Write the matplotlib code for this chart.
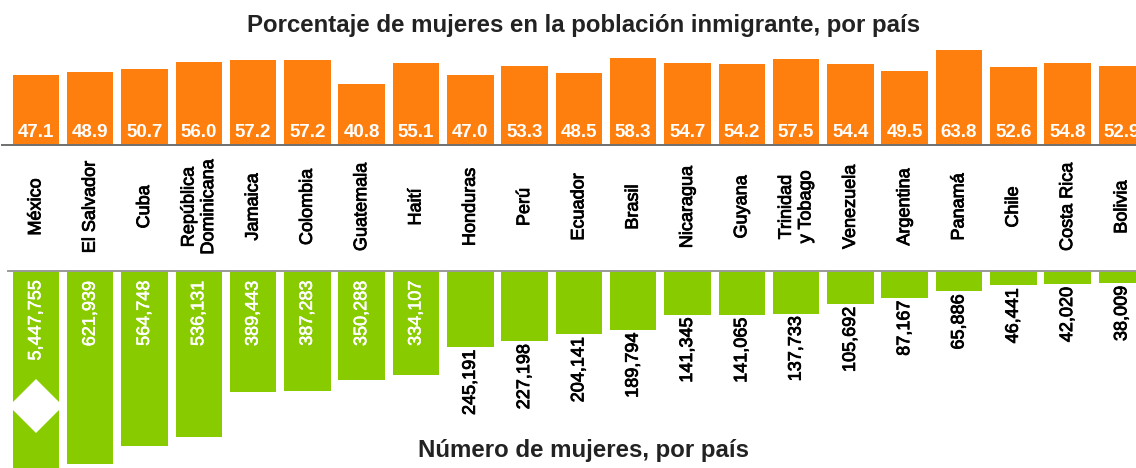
import matplotlib
matplotlib.use("Agg")
from matplotlib import pyplot as plt
from matplotlib import patheffects
from matplotlib.transforms import blended_transform_factory

plt.rcParams["font.family"] = ["Liberation Sans", "DejaVu Sans"]

countries = ["México", "El Salvador", "Cuba", "República\nDominicana", "Jamaica",
             "Colombia", "Guatemala", "Haití", "Honduras", "Perú", "Ecuador",
             "Brasil", "Nicaragua", "Guyana", "Trinidad\ny Tobago", "Venezuela",
             "Argentina", "Panamá", "Chile", "Costa Rica", "Bolivia"]
pct_women = [47.1, 48.9, 50.7, 56.0, 57.2, 57.2, 40.8, 55.1, 47.0, 53.3, 48.5,
             58.3, 54.7, 54.2, 57.5, 54.4, 49.5, 63.8, 52.6, 54.8, 52.9]
num_women = [5447755, 621939, 564748, 536131, 389443, 387283, 350288, 334107,
             245191, 227198, 204141, 189794, 141345, 141065, 137733, 105692,
             87167, 65886, 46441, 42020, 38009]

orange = "#ff7f0e"
green = "#88cc00"
W, H = 1136, 468

# slightly heavier glyphs, like the original's font smoothing
heavy_black = [patheffects.withStroke(linewidth=0.6, foreground="black")]
heavy_white = [patheffects.withStroke(linewidth=0.4, foreground="white")]

fig = plt.figure(figsize=(W / 100, H / 100), dpi=100)

# pixel layout
top_base = 145   # baseline of orange bars (px from top)
bot_base = 271   # baseline of green bars
x0, pitch = 35.9, 54.3
xlim = (-x0 / pitch, (W - x0) / pitch)
xs = list(range(len(countries)))

# top panel: percentage
ax1 = fig.add_axes([0, (H - top_base) / H, 1, top_base / H])
ax1.bar(xs, pct_women, width=0.856, color=orange)
ax1.set_xlim(xlim)
ax1.set_ylim(0, top_base / 1.49)
for s in ["top", "left", "right"]:
    ax1.spines[s].set_visible(False)
ax1.spines["bottom"].set_color("#6f6f6f")
ax1.spines["bottom"].set_linewidth(1.4)
ax1.spines["bottom"].set_bounds((2 - x0) / pitch, xlim[1])
ax1.set_xticks([])
ax1.set_yticks([])
ax1.patch.set_alpha(0)
for i, v in enumerate(pct_women):
    ax1.annotate(f"{v:.1f}", xy=(i, 0), xytext=(0, 8), textcoords="offset pixels",
                 ha="center", va="baseline", color="white", fontsize=13.5,
                 fontweight="bold")

# country names in the middle band
tr = blended_transform_factory(ax1.transData, fig.transFigure)
for i, name in enumerate(countries):
    ax1.text(i, (H - 207) / H, name, transform=tr, rotation=90, ha="center",
             va="center", multialignment="center", fontsize=13, color="black",
             clip_on=False, path_effects=heavy_black)

# bottom panel: number of women
ax2 = fig.add_axes([0, 0, 1, (H - bot_base) / H])
ax2.bar(xs, num_women, width=0.856, color=green)
ax2.set_xlim(xlim)
ax2.set_ylim((H - bot_base) / 0.00031, 0)
for s in ["bottom", "left", "right"]:
    ax2.spines[s].set_visible(False)
ax2.spines["top"].set_color("#9a9a9a")
ax2.spines["top"].set_linewidth(1.4)
ax2.spines["top"].set_bounds((8 - x0) / pitch, xlim[1])
ax2.set_xticks([])
ax2.set_yticks([])
ax2.patch.set_alpha(0)
for i, v in enumerate(num_women):
    if v > 300000:
        ax2.annotate(f"{v:,}", xy=(i, 0), xytext=(0, -10), textcoords="offset pixels",
                     rotation=90, ha="center", va="top", color="white", fontsize=13,
                     path_effects=heavy_white)
    else:
        ax2.annotate(f"{v:,}", xy=(i, v), xytext=(0, -3), textcoords="offset pixels",
                     rotation=90, ha="center", va="top", color="black", fontsize=13,
                     path_effects=heavy_black)

# break marker on the Mexico bar
tr2 = blended_transform_factory(ax2.transData, ax2.transAxes)
ax2.plot([0], [(H - 405.5) / (H - bot_base)], transform=tr2, marker="D",
         markersize=28, color="white", markeredgewidth=0)

fig.text(584 / W, 1 - 32 / H, "Porcentaje de mujeres en la población inmigrante, por país",
         ha="center", va="baseline", fontsize=17.3, fontweight="bold", color="#222222")
fig.text(584 / W, 1 - 457 / H, "Número de mujeres, por país",
         ha="center", va="baseline", fontsize=17.3, fontweight="bold", color="#222222")

fig.savefig("out.png", dpi=100)
